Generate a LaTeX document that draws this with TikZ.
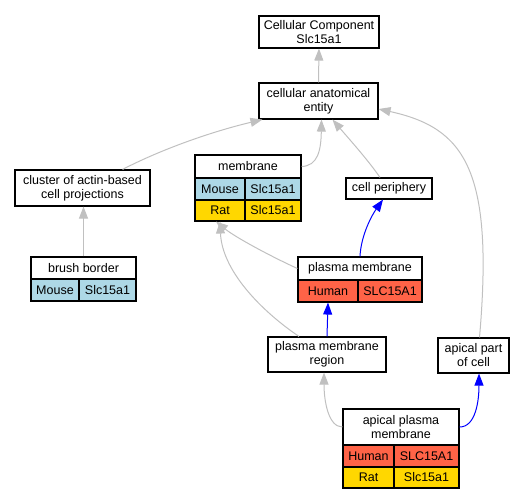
\documentclass[tikz,border=0pt]{standalone}
\usepackage{fontspec}
\setmainfont{Liberation Sans}
\usetikzlibrary{arrows.meta}

\definecolor{mouseblue}{HTML}{ADD8E6}
\definecolor{ratgold}{HTML}{FFD700}
\definecolor{humanred}{HTML}{FF6347}
\definecolor{edgegray}{HTML}{C0C0C0}

\begin{document}
\begin{tikzpicture}[x=1pt, y=-1pt,
    term/.style={draw, line width=1.1pt, fill=white, inner sep=0pt, align=center,
        font=\fontsize{12.5}{14}\selectfont},
    cell/.style={term, minimum height=22pt},
    mouse/.style={cell, fill=mouseblue},
    rat/.style={cell, fill=ratgold},
    human/.style={cell, fill=humanred},
    isa/.style={draw=edgegray, line width=1pt, -{Triangle[length=12pt, width=9pt]}},
    partof/.style={draw=blue, line width=1pt, -{Triangle[length=12pt, width=9pt]}}]
    \useasboundingbox (0,0) rectangle (524,499);

    % Plain terms
    \node[term, minimum width=120pt, minimum height=32pt] (cc) at (319,32) {Cellular Component\\Slc15a1};
    \node[term, minimum width=119pt, minimum height=36pt] (cae) at (318.5,101) {cellular anatomical\\entity};
    \node[term, minimum width=135pt, minimum height=36pt] (clu) at (82.5,188) {cluster of actin-based\\cell projections};
    \node[term, minimum width=86pt, minimum height=21pt] (cp) at (389,188.5) {cell periphery};
    \node[term, minimum width=118pt, minimum height=35pt] (pmr) at (327,354.5) {plasma membrane\\region};
    \node[term, minimum width=71pt, minimum height=35pt] (apc) at (473.5,355.5) {apical part\\of cell};

    % membrane
    \node[term, minimum width=106pt, minimum height=23pt] (mem) at (248,166.5) {membrane};
    \node[mouse, minimum width=50pt] (mem-mouse) at (220,189) {Mouse};
    \node[mouse, minimum width=56pt] (mem-mouse-gene) at (273,189) {Slc15a1};
    \node[rat, minimum width=50pt, minimum height=21pt] (mem-rat) at (220,210.5) {Rat};
    \node[rat, minimum width=56pt, minimum height=21pt] (mem-rat-gene) at (273,210.5) {Slc15a1};

    % brush border
    \node[term, minimum width=105pt, minimum height=22pt] (bb) at (83.5,268) {brush border};
    \node[mouse, minimum width=48pt] (bb-mouse) at (55,290) {Mouse};
    \node[mouse, minimum width=57pt] (bb-mouse-gene) at (107.5,290) {Slc15a1};

    % plasma membrane
    \node[term, minimum width=124pt, minimum height=23pt] (pm) at (360,268.5) {plasma membrane};
    \node[human, minimum width=60pt] (pm-human) at (328,291) {Human};
    \node[human, minimum width=64pt] (pm-human-gene) at (390,291) {SLC15A1};

    % apical plasma membrane
    \node[term, minimum width=116pt, minimum height=36pt] (apm) at (401,427) {apical plasma\\membrane};
    \node[human, minimum width=51pt] (apm-human) at (368.5,456) {Human};
    \node[human, minimum width=65pt] (apm-human-gene) at (426.5,456) {SLC15A1};
    \node[rat, minimum width=51pt, minimum height=21pt] (apm-rat) at (368.5,477.5) {Rat};
    \node[rat, minimum width=65pt, minimum height=21pt] (apm-rat-gene) at (426.5,477.5) {Slc15a1};

    % is_a edges
    \draw[isa] (cae.north) -- (cc.south);
    \draw[isa] ([xshift=40pt]clu.north) .. controls (160,150) and (210,132) .. ([xshift=4pt]cae.south west);
    \draw[isa] (mem.east) .. controls (318,166) and (321,150) .. ([xshift=3pt]cae.south);
    \draw[isa] ([xshift=-9pt]cp.north) .. controls (368,160) and (350,140) .. ([xshift=14pt]cae.south);
    \draw[isa] ([xshift=6pt]apc.north) .. controls (494,170) and (465,128) .. ([yshift=-8pt]cae.east);
    \draw[isa] (bb.north) -- (bb.north |- clu.south);
    \draw[isa] (pm.west) .. controls (270,256) and (235,237) .. ([xshift=-4pt]mem-rat.south);
    \draw[isa] ([xshift=-28pt]pmr.north) .. controls (260,310) and (222,270) .. (mem-rat.south);
    \draw[isa] (apm.west) .. controls (328,427) and (324,400) .. ([xshift=-3pt]pmr.south);

    % part_of edges
    \draw[partof] (pm.north) .. controls (361,235) and (372,215) .. ([xshift=-6pt]cp.south);
    \draw[partof] (pmr.north) -- (pm-human.south);
    \draw[partof] (apm.east) .. controls (476,427) and (479,400) .. ([xshift=5.5pt]apc.south);
\end{tikzpicture}
\end{document}
